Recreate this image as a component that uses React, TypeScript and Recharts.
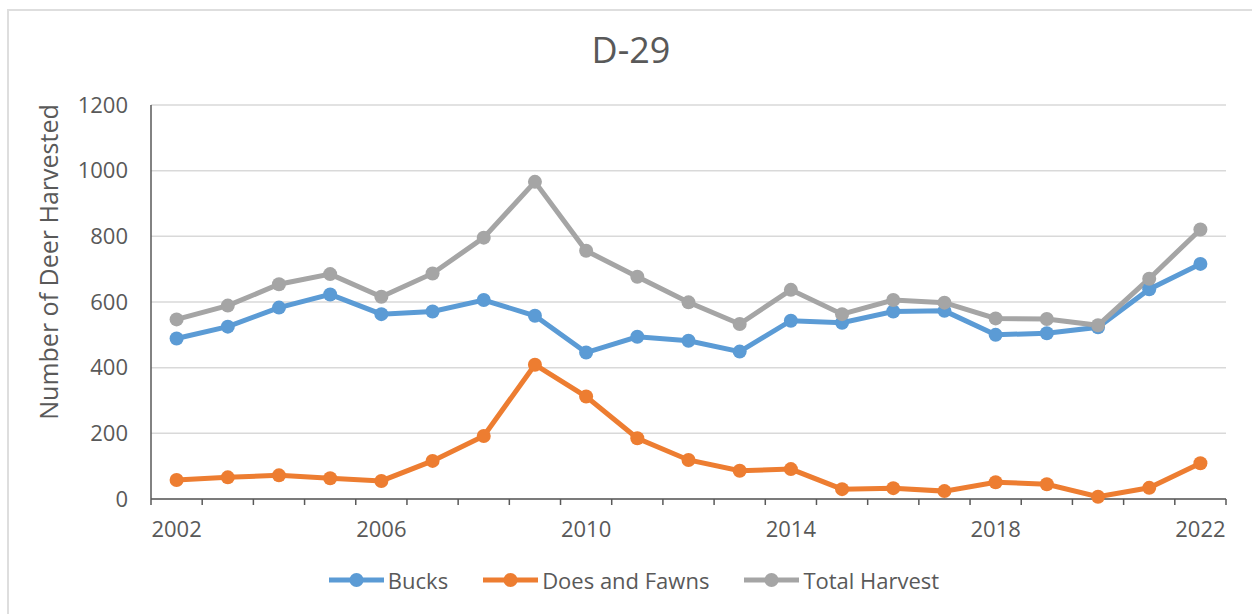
import { LineChart, Line, XAxis, YAxis, CartesianGrid, Legend } from 'recharts';

// harvest by year
const YEARS = [
  '2002', '2003', '2004', '2005', '2006', '2007', '2008', '2009', '2010', '2011', '2012',
  '2013', '2014', '2015', '2016', '2017', '2018', '2019', '2020', '2021', '2022',
];
const BUCKS = [489, 525, 583, 623, 563, 571, 606, 558, 446, 494, 482, 449, 543, 537, 571, 573, 500, 505, 523, 639, 716];
const DOES = [58, 66, 72, 63, 55, 116, 192, 409, 312, 185, 119, 86, 91, 30, 33, 24, 51, 45, 7, 34, 109];
const TOTAL = [547, 589, 654, 685, 616, 687, 796, 966, 756, 677, 599, 533, 637, 563, 606, 598, 550, 548, 529, 671, 821];
const Y_TICKS = [0, 200, 400, 600, 800, 1000, 1200];

const SERIES = [
  { key: 'bucks', name: 'Bucks', color: '#5B9BD5' },
  { key: 'does', name: 'Does and Fawns', color: '#ED7D31' },
  { key: 'total', name: 'Total Harvest', color: '#A5A5A5' },
];

const FONT = '"Open Sans", "Noto Sans", sans-serif';
const TEXT = '#595959';
const W = 1252;
const H = 614;
const MARGIN = { top: 105, right: 26, bottom: 75, left: 0 };
const Y_WIDTH = 151;
const PLOT_W = W - MARGIN.left - MARGIN.right - Y_WIDTH;
const BAND = PLOT_W / YEARS.length;

const data = YEARS.map((year, i) => ({
  year,
  bucks: BUCKS[i],
  does: DOES[i],
  total: TOTAL[i],
}));

// category axis: tick marks sit between categories, label every 4th year
const XTick = (props: any) => {
  const { x, y, index, payload } = props;
  const left = x - BAND / 2;
  const last = index === YEARS.length - 1;
  return (
    <g>
      <line x1={left} x2={left} y1={y} y2={y + 6} stroke="#595959" strokeWidth={1.5} />
      {last && <line x1={x + BAND / 2} x2={x + BAND / 2} y1={y} y2={y + 6} stroke="#595959" strokeWidth={1.5} />}
      {index % 4 === 0 && (
        <text x={x} y={y + 38} textAnchor="middle" fill={TEXT} fontSize={22} fontFamily={FONT}>
          {payload.value}
        </text>
      )}
    </g>
  );
};

const LegendContent = () => (
  <div
    style={{
      display: 'flex',
      justifyContent: 'center',
      alignItems: 'center',
      height: 36,
      gap: 35,
      fontFamily: FONT,
      fontSize: 22,
      color: TEXT,
    }}
  >
    {SERIES.map((s) => (
      <div key={s.key} style={{ display: 'flex', alignItems: 'center' }}>
        <svg width={55} height={16} style={{ marginRight: 4 }}>
          <line x1={0} x2={55} y1={8} y2={8} stroke={s.color} strokeWidth={5} />
          <circle cx={27.5} cy={8} r={7} fill={s.color} />
        </svg>
        <span>{s.name}</span>
      </div>
    ))}
  </div>
);

export default function App() {
  return (
    <div
      style={{
        position: 'absolute',
        left: 0,
        top: 0,
        width: W,
        height: H,
        overflow: 'hidden',
        background: '#fff',
      }}
    >
      {/* chart frame runs off the right and bottom edges */}
      <div
        style={{
          position: 'absolute',
          left: 7,
          top: 9,
          width: 1260,
          height: 640,
          border: '2px solid #dedede',
          boxSizing: 'border-box',
        }}
      />
      <div
        style={{
          position: 'absolute',
          left: 0,
          top: 32,
          width: 1262,
          textAlign: 'center',
          fontFamily: FONT,
          fontSize: 36,
          lineHeight: 1,
          color: TEXT,
        }}
      >
        D-29
      </div>
      <div
        style={{
          position: 'absolute',
          left: 48,
          top: 262,
          transform: 'translate(-50%, -50%) rotate(-90deg)',
          whiteSpace: 'nowrap',
          fontFamily: FONT,
          fontSize: 25,
          lineHeight: 1,
          color: TEXT,
        }}
      >
        Number of Deer Harvested
      </div>
      <div style={{ position: 'absolute', left: 0, top: 0 }}>
        <LineChart width={W} height={H} data={data} margin={MARGIN}>
          <CartesianGrid vertical={false} stroke="#d9d9d9" strokeWidth={1.5} />
          <XAxis
            dataKey="year"
            interval={0}
            height={40}
            padding={{ left: BAND / 2, right: BAND / 2 }}
            tickSize={0}
            tickMargin={0}
            tickLine={false}
            axisLine={{ stroke: '#595959', strokeWidth: 1.5 }}
            tick={XTick}
          />
          <YAxis
            width={Y_WIDTH}
            domain={[0, 1200]}
            ticks={Y_TICKS}
            tickSize={0}
            tickMargin={23}
            tickLine={false}
            axisLine={{ stroke: '#595959', strokeWidth: 1.5 }}
            tick={{ fill: TEXT, fontSize: 22, fontFamily: FONT }}
          />
          <Legend
            layout="horizontal"
            verticalAlign="middle"
            content={LegendContent}
            wrapperStyle={{ top: 562, left: 0, width: 1268, height: 36 }}
          />
          {SERIES.map((s) => (
            <Line
              key={s.key}
              dataKey={s.key}
              name={s.name}
              stroke={s.color}
              strokeWidth={5}
              dot={{ r: 7, fill: s.color, stroke: s.color, strokeWidth: 0 }}
              activeDot={false}
              isAnimationActive={false}
            />
          ))}
        </LineChart>
      </div>
    </div>
  );
}
